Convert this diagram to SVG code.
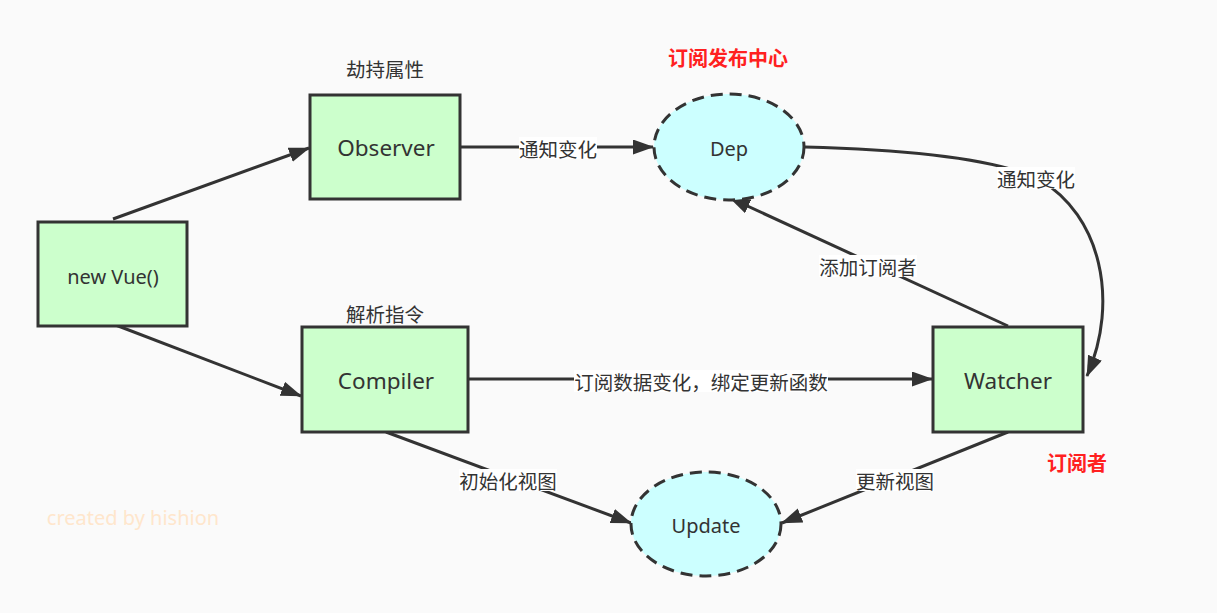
<svg xmlns="http://www.w3.org/2000/svg" width="1217" height="613" viewBox="0 0 1217 613">
<defs>
<style>
.box{fill:#ccffcc;stroke:#333;stroke-width:3}
.ell{fill:#ccffff;stroke:#333;stroke-width:3;stroke-dasharray:12 7}
.edge{fill:none;stroke:#333;stroke-width:3;marker-end:url(#arr)}
.t{font-family:"Noto Sans","Noto Sans CJK SC",sans-serif;fill:#333;text-anchor:middle;dominant-baseline:central}
.big{font-size:22.5px}
.mid{font-size:20px}
.lbl{font-family:"Noto Sans CJK SC","Noto Sans",sans-serif;font-size:19.5px;fill:#333;text-anchor:middle;dominant-baseline:central}
.lbg{fill:#ffffff}
.red{font-family:"Noto Sans CJK SC",sans-serif;font-size:20px;font-weight:bold;fill:#ff2020;text-anchor:middle;dominant-baseline:central}
</style>
<marker id="arr" markerUnits="userSpaceOnUse" markerWidth="22" markerHeight="16" refX="20" refY="7.5" orient="auto">
<path d="M0,0 L21,7.5 L0,15 Z" fill="#333"/>
</marker>
</defs>
<rect width="1217" height="613" fill="#fafafa"/>
<g id="connectors">
<path class="edge" d="M113,219 L309,148"/>
<path class="edge" d="M113,324 L301,396"/>
<path class="edge" d="M461,147 L653,147"/>
<path class="edge" d="M805,147 C920,150 1000,160 1040,180 C1100,215 1120,300 1087,376"/>
<path class="edge" d="M1008,326 L730,198"/>
<path class="edge" d="M469,379 L932,379"/>
<path class="edge" d="M386,432 L631,523"/>
<path class="edge" d="M1008,432 L782,523"/>
<rect class="lbg" x="519" y="137" width="78" height="22"/>
<text class="lbl" x="558" y="148">通知变化</text>
<rect class="lbg" x="997" y="167" width="78" height="22"/>
<text class="lbl" x="1036" y="178">通知变化</text>
<rect class="lbg" x="819" y="255" width="98" height="22"/>
<text class="lbl" x="868" y="266">添加订阅者</text>
<rect class="lbg" x="574" y="370" width="254" height="22"/>
<text class="lbl" x="701" y="381">订阅数据变化，绑定更新函数</text>
<rect class="lbg" x="459" y="469" width="98" height="22"/>
<text class="lbl" x="508" y="480">初始化视图</text>
<rect class="lbg" x="856" y="469" width="78" height="22"/>
<text class="lbl" x="895" y="480">更新视图</text>
</g>
<g id="newvue">
<rect class="box" x="38" y="222" width="149" height="104"/>
<text class="t mid" x="113" y="276">new Vue()</text>
</g>
<g id="observer">
<rect class="box" x="310" y="95" width="150" height="104"/>
<text class="t big" x="386" y="147">Observer</text>
<text class="lbl" x="385" y="68">劫持属性</text>
</g>
<g id="compiler">
<rect class="box" x="302" y="327" width="166" height="105"/>
<text class="t big" x="386" y="380">Compiler</text>
<text class="lbl" x="385" y="313">解析指令</text>
</g>
<g id="watcher">
<rect class="box" x="933" y="327" width="150" height="105"/>
<text class="t big" x="1008" y="380">Watcher</text>
<text class="red" x="1077" y="462">订阅者</text>
</g>
<g id="dep">
<ellipse class="ell" cx="729" cy="147" rx="75" ry="53"/>
<text class="t mid" x="729" y="148">Dep</text>
<text class="red" x="728" y="57">订阅发布中心</text>
</g>
<g id="update">
<ellipse class="ell" cx="706" cy="524" rx="75" ry="52"/>
<text class="t mid" x="706" y="525">Update</text>
</g>
<text x="133" y="517" font-family="Noto Sans, sans-serif" font-size="20" fill="#ffe6cc" text-anchor="middle" dominant-baseline="central">created by hishion</text>
</svg>
